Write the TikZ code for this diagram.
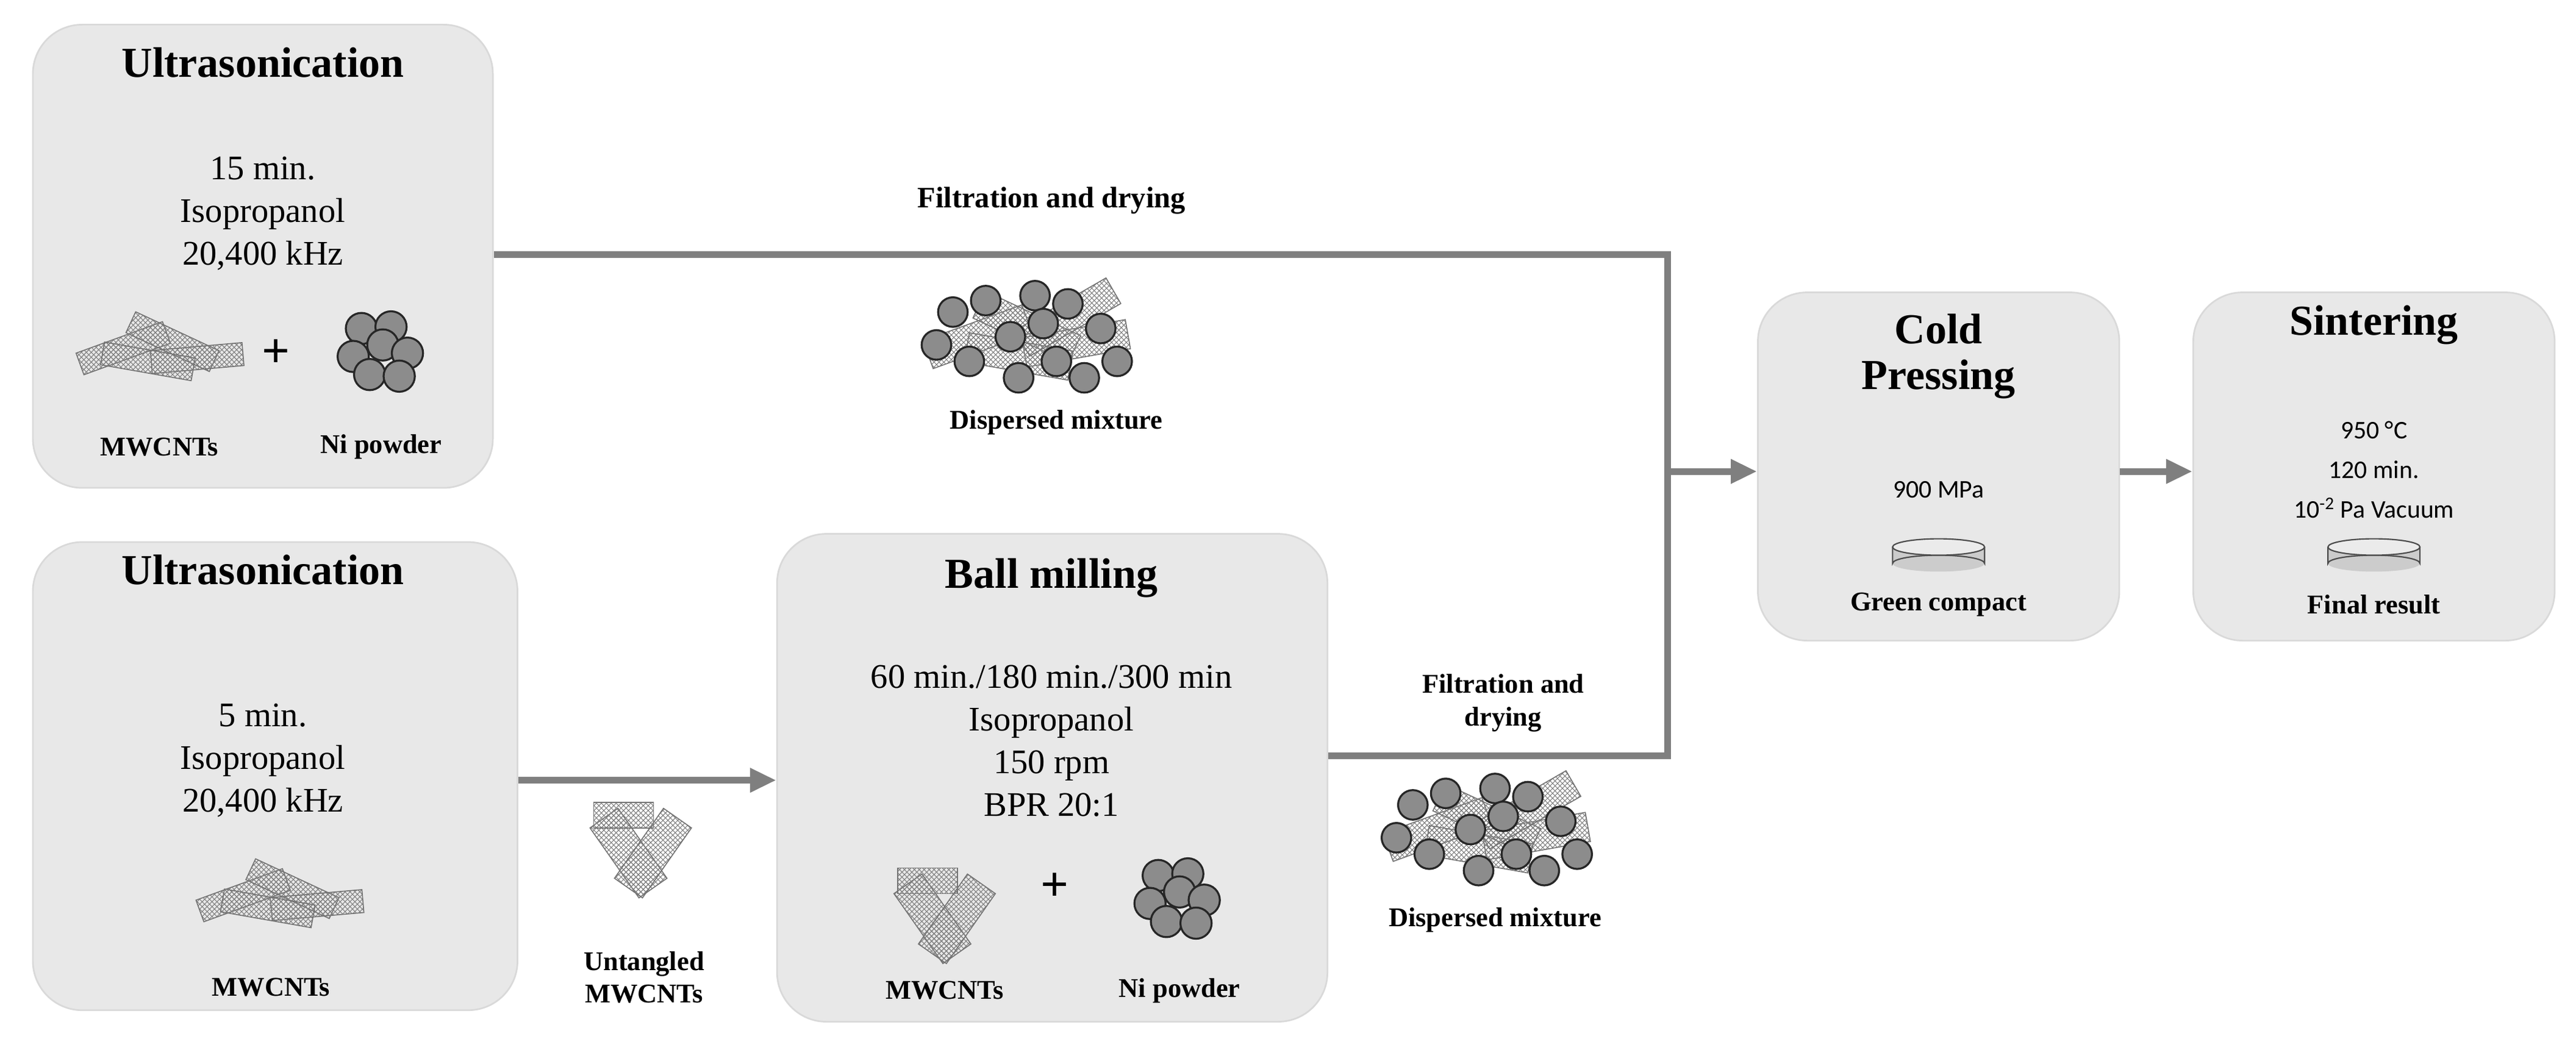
\documentclass[tikz,border=0pt]{standalone}
\usepackage{fontspec}
\setmainfont{Liberation Serif}
\newfontfamily\sansf{Carlito}
\usetikzlibrary{arrows.meta,patterns,positioning}
\definecolor{boxg}{HTML}{E8E8E8}
\definecolor{lineg}{HTML}{7F7F7F}
\tikzset{
  x=1pt,y=-1pt,
  stage/.style={draw=black!15,line width=1pt,fill=boxg,rounded corners=30pt},
  ttl/.style={font=\fontsize{26}{28}\selectfont\bfseries},
  body/.style={font=\fontsize{21}{26}\selectfont,align=center},
  lbl/.style={font=\fontsize{16.5}{20}\selectfont\bfseries,align=center},
  sml/.style={font=\sansf\fontsize{15.5}{18}\selectfont,align=center},
  conn/.style={draw=lineg,line width=4pt},
  arr/.style={conn,-{Triangle[length=16pt,width=14pt]}},
  tube/.style={draw=black!55,line width=0.6pt,pattern=crosshatch,pattern color=black!50},
  ball/.style={draw=black!85,line width=1.2pt,fill=black!45},
  cnt/.pic={
    \foreach \a/\dx/\dy in {20/-20/0,-25/10/-4,5/25/6,-10/-5/8}{
      \draw[tube,rotate around={\a:(\dx,\dy)}] (\dx-28,\dy-7) rectangle (\dx+28,\dy+7);}
  },
  vtube/.pic={
    \begin{scope}[scale=1.3]
    \draw[tube,rotate=35] (-8,-30) rectangle (8,10);
    \draw[tube,rotate=-35] (-8,-30) rectangle (8,10);
    \draw[tube] (-22,-32) rectangle (6,-20);
    \end{scope}
  },
  balls/.pic={
    \foreach \px/\py in {-10/-12,8/-13,-15/5,3/-2,18/3,-5/16,13/17}{
      \draw[ball] (\px,\py) circle (9.5);}
  },
  mix/.pic={
    \foreach \a/\dx/\dy in {20/-30/0,-25/0/-6,10/30/4,-10/-5/12,30/25/-12}{
      \draw[tube,rotate around={\a:(\dx,\dy)}] (\dx-32,\dy-9) rectangle (\dx+32,\dy+9);}
    \foreach \px/\py in {-45/-15,-25/-22,-10/0,5/-25,25/-20,45/-5,-35/15,-5/25,18/15,35/25,55/15,-55/5,10/-8}{
      \draw[ball] (\px,\py) circle (9);}
  },
  disc/.pic={
    \fill[black!20] (-28,0) rectangle (28,10);
    \fill[black!20] (0,10) ellipse (28 and 5);
    \draw[black!70,line width=0.8pt] (-28,0) -- (-28,10) arc[start angle=180,end angle=360,x radius=28,y radius=5] -- (28,0);
    \draw[black!70,line width=0.8pt,fill=black!8] (0,0) ellipse (28 and 5);
  }
}
\begin{document}
\begin{tikzpicture}
\useasboundingbox (0,0) rectangle (1568,639);
% boxes
\node[stage,minimum width=280pt,minimum height=282pt] (u1) at (160,156) {};
\node[stage,minimum width=295pt,minimum height=285pt] (u2) at (167.5,472.5) {};
\node[stage,minimum width=335pt,minimum height=297pt] (bm) at (640.5,473.5) {};
\node[stage,minimum width=220pt,minimum height=212pt] (cp) at (1180,284) {};
\node[stage,minimum width=220pt,minimum height=212pt] (si) at (1445,284) {};
% top ultrasonication
\node[ttl] (u1t) at (160,38) {Ultrasonication};
\node[body] (u1b) at (160,130) {15 min.\\Isopropanol\\20,400 kHz};
\pic at (95,212) {cnt};
\node[font=\fontsize{30}{30}\selectfont\bfseries] (p1) at (168,215) {+};
\pic at (230,212) {balls};
\node[lbl] (u1l1) at (97,272) {MWCNTs};
\node[lbl] (u1l2) at (232,272) {Ni powder};
% bottom ultrasonication
\node[ttl] (u2t) at (160,347) {Ultrasonication};
\node[body] (u2b) at (160,463) {5 min.\\Isopropanol\\20,400 kHz};
\pic at (168,545) {cnt};
\node[lbl] (u2l) at (165,601) {MWCNTs};
% untangled
\pic at (390,530) {vtube};
\node[lbl] (unt) at (392,595) {Untangled\\MWCNTs};
% ball milling
\node[ttl] (bmt) at (640,352) {Ball milling};
\node[body] (bmb) at (640,451) {60 min./180 min./300 min\\Isopropanol\\150 rpm\\BPR 20:1};
\pic at (575,570) {vtube};
\node[font=\fontsize{30}{30}\selectfont\bfseries] (p2) at (642,540) {+};
\pic at (715,545) {balls};
\node[lbl] (bml1) at (575,603) {MWCNTs};
\node[lbl] (bml2) at (718,603) {Ni powder};
% top filtration
\node[lbl,font=\fontsize{18}{20}\selectfont\bfseries] (ft) at (640,122) {Filtration and drying};
\pic at (625,205) {mix};
\node[lbl] (dm1) at (643,257) {Dispersed mixture};
% bottom filtration
\node[lbl] (fb) at (915,428) {Filtration and\\drying};
\pic at (905,505) {mix};
\node[lbl] (dm2) at (910,560) {Dispersed mixture};
% cold pressing
\node[ttl,align=center] (cpt) at (1180,217) {Cold\\Pressing};
\node[sml] (cpb) at (1180,298) {900 MPa};
\pic at (1180,333) {disc};
\node[lbl] (cpl) at (1180,368) {Green compact};
% sintering
\node[ttl] (sit) at (1445,198) {Sintering};
\node[sml,font=\sansf\fontsize{15.5}{24}\selectfont] (sib) at (1445,286) {950 °C\\120 min.\\10\textsuperscript{-2} Pa Vacuum};
\pic at (1445,333) {disc};
\node[lbl] (sil) at (1445,368) {Final result};
% connectors
\coordinate (j1) at (1015,155);
\coordinate (j2) at (1015,460);
\coordinate (jm) at (1015,287);
\draw[conn] (u1.east |- 0,155) -- (j1) -- (j2) -- (bm.east |- 0,460);
\draw[arr] (jm) -- (cp.west |- 0,287);
\draw[arr] (cp.east |- 0,287) -- (si.west |- 0,287);
\draw[arr] (u2.east |- 0,475) -- (bm.west |- 0,475);
\end{tikzpicture}
\end{document}
